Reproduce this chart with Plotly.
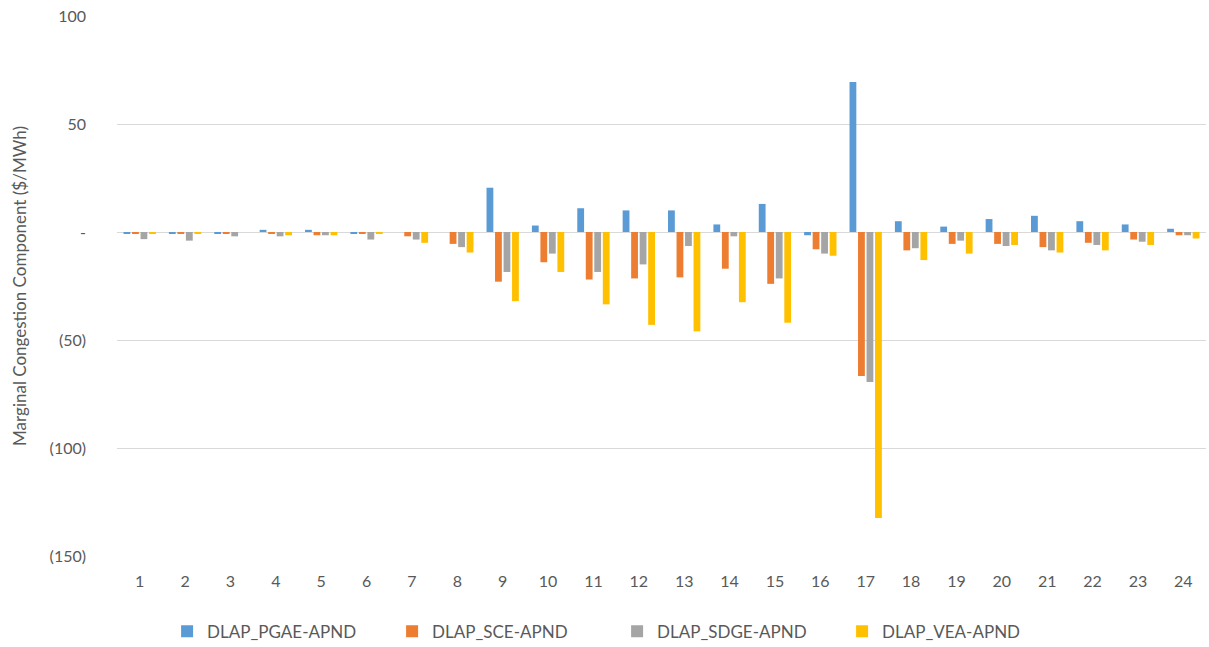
import plotly.graph_objects as go

# 시간대 (1~24)
hours = [str(h) for h in range(1, 25)]

pgae = [-0.5, -0.5, -0.5, 1.0, 1.0, -0.5, 0.0, 0.0, 20.5, 3.0, 11.0, 10.0,
        10.0, 3.5, 13.0, -1.5, 69.5, 5.0, 2.5, 6.0, 7.5, 5.0, 3.5, 1.5]
sce = [-0.5, -0.5, -0.5, -0.5, -1.5, -0.5, -2.0, -5.5, -23.0, -14.0, -22.0, -21.5,
       -21.0, -17.0, -24.0, -8.0, -66.7, -8.5, -5.5, -5.5, -7.0, -5.0, -3.5, -1.5]
sdge = [-3.3, -4.0, -2.0, -2.0, -1.5, -3.5, -3.5, -7.0, -18.5, -10.0, -18.5, -15.0,
        -6.5, -2.0, -21.5, -10.0, -69.4, -7.5, -4.0, -6.5, -8.5, -6.0, -4.5, -1.5]
vea = [-0.5, -0.5, 0.0, -1.5, -1.5, -0.5, -5.0, -9.5, -32.0, -18.5, -33.5, -43.0,
       -46.0, -32.5, -42.0, -11.0, -132.4, -13.0, -10.0, -6.0, -9.5, -8.5, -6.0, -3.0]

series_names = ["DLAP_PGAE-APND", "DLAP_SCE-APND", "DLAP_SDGE-APND", "DLAP_VEA-APND"]
series_colors = ["#5B9BD5", "#ED7D31", "#A5A5A5", "#FFC000"]

y_tickvals = [100, 50, 0, -50, -100, -150]
y_ticktext = ["100", "50", "-", "(50)", "(100)", "(150)"]

TEXT_COLOR = "#595959"
GRID_COLOR = "#D9D9D9"
FONT = "Lato, 'Open Sans', sans-serif"

fig = go.Figure()

for name, color, values in zip(series_names, series_colors, [pgae, sce, sdge, vea]):
    fig.add_trace(go.Bar(
        x=hours, y=values,
        name=name,
        marker=dict(color=color, line=dict(width=0)),
        hovertemplate=f'<b>{name}</b><br>Hour: %{{x}}<br>%{{y}}<extra></extra>'
    ))

fig.update_layout(
    width=1209,
    height=647,
    margin=dict(l=117, r=3, t=16, b=91, autoexpand=False),
    plot_bgcolor="white",
    paper_bgcolor="white",
    barmode="group",
    bargap=0.25,
    bargroupgap=0.2,
    font=dict(family=FONT, color=TEXT_COLOR, size=16),
    xaxis=dict(
        showgrid=False, showline=False, ticks="",
        tickfont=dict(size=16, color=TEXT_COLOR),
        ticklabelstandoff=14,
    ),
    yaxis=dict(
        range=[-150, 100],
        tickvals=y_tickvals,
        ticktext=y_ticktext,
        showgrid=True, gridcolor=GRID_COLOR, gridwidth=1,
        zeroline=True, zerolinecolor=GRID_COLOR, zerolinewidth=1,
        tickfont=dict(size=16, color=TEXT_COLOR),
        ticklabelstandoff=30,
        title=dict(text="Marginal Congestion Component ($/MWh)",
                   font=dict(size=17, color=TEXT_COLOR), standoff=18),
    ),
    legend=dict(
        orientation="h",
        x=0.046, xanchor="left",
        y=-0.14, yanchor="middle",
        entrywidth=180,
        font=dict(size=17, color=TEXT_COLOR),
        itemwidth=30,
    ),
)

# 페이지 기본 여백 제거
fig.write_html("out.html", config={"displayModeBar": False},
               post_script="document.body.style.margin='0';")
